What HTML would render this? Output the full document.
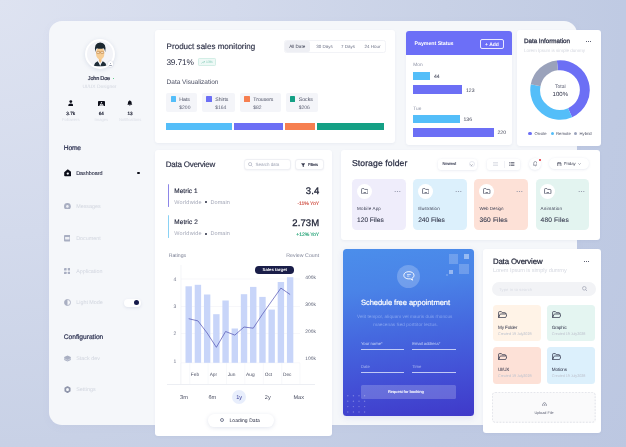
<!DOCTYPE html>
<html><head><meta charset="utf-8"><title>Dashboard</title>
<style>
html,body{margin:0;padding:0;}
body{width:626px;height:447px;overflow:hidden;position:relative;font-family:"Liberation Sans",sans-serif;
background:radial-gradient(circle 780px at 0 0,#dee3f1 0%,#d3daec 30%,#c8d1e6 57%,#bfcae3 80%,#bcc7e1 100%);}
body div,body svg,body span{position:absolute;box-sizing:border-box;}
.t{line-height:1;white-space:nowrap;}
.card{background:#fff;border-radius:3px;box-shadow:0 1px 2.5px rgba(100,115,160,.08);}
#L{left:0;top:0;width:626px;height:447px;will-change:transform;text-rendering:geometricPrecision;}
</style></head><body><div id="L">
<div style="left:49px;top:21px;width:528.1px;height:404.4px;background:#f5f7fa;border-radius:13px;box-shadow:0 2px 8px rgba(110,125,170,.05);"></div>
<div class="card" style="left:154.5px;top:30px;width:240px;height:112.5px"></div>
<div class="card" style="left:405.5px;top:30.5px;width:106.5px;height:114.2px;overflow:hidden"><div style="left:0;top:0;width:100%;height:24.5px;background:#6c6ff7"></div></div>
<div class="card" style="left:517px;top:30px;width:83.6px;height:115.7px"></div>
<div class="card" style="left:154.5px;top:150.3px;width:177.5px;height:285.6px"></div>
<div class="card" style="left:341px;top:150.1px;width:259.4px;height:89.8px"></div>
<div style="left:343px;top:249px;width:131px;height:167px;border-radius:3.5px;background:linear-gradient(172deg,#4b8eeb 0%,#4a83e7 24%,#4568df 50%,#4350d6 75%,#3f39c9 100%);box-shadow:0 2px 6px rgba(70,80,200,.12)"></div>
<div class="card" style="left:482.5px;top:249px;width:118.5px;height:183.5px"></div>
<div style="left:84.6px;top:38.6px;width:30.6px;height:30.6px;border-radius:50%;background:#fff;box-shadow:0 1px 4px rgba(120,135,175,.22)"></div>
<div style="left:86.9px;top:40.9px;width:26px;height:26px;border-radius:50%;background:#f3f4f8;overflow:hidden"><svg style="left:-2.9px;top:-2.9px" width="32" height="32" viewBox="0 0 32 32"><path d="M9.6 28.2 Q10.6 24.4 13.6 23.2 L16.2 27 L18.8 23.2 Q21.8 24.4 22.8 28.2 Z" fill="#1f2d38"/><path d="M14.4 23.3 L16.2 28.2 L18 23.3 L16.2 24.4Z" fill="#eef1f5"/><path d="M14.9 20 H17.5 V22.9 L16.2 24.9 L14.9 22.9Z" fill="#f0bd80"/><ellipse cx="16.2" cy="15.4" rx="4.2" ry="6.2" fill="#f6cd95"/><path d="M11.2 14.2 Q9.6 4.6 16.2 4.5 Q22.9 4.6 21.2 14.2 Q20.8 11 19.6 10.2 Q16.2 11.2 12.8 10.2 Q11.6 11 11.2 14.2Z" fill="#1b2730"/><rect x="12.7" y="13.4" width="3" height="2.1" rx=".6" fill="#f3dcc0" stroke="#b5793a" stroke-width=".5"/><rect x="16.7" y="13.4" width="3" height="2.1" rx=".6" fill="#f3dcc0" stroke="#b5793a" stroke-width=".5"/><path d="M15.7 14.2 H16.7" stroke="#b5793a" stroke-width=".45"/></svg></div>
<div style="left:107.6px;top:61.2px;width:5.6px;height:5.6px;border-radius:50%;background:#fff;box-shadow:0 0 1.5px rgba(100,110,150,.4)"></div>
<div style="left:109.8px;top:62.7px;width:1.2px;height:1.8px;background:#9aa0b0;border-radius:.6px .6px 0 0"></div>
<div style="left:109.2px;top:64.7px;width:2.4px;height:.9px;background:#9aa0b0;border-radius:.4px"></div>
<span class="t" style="top:77px;font-size:5.6px;color:#2d3148;letter-spacing:-0.234px;left:98.88px;transform:translateX(-50%);-webkit-text-stroke:.2px currentColor;">John Doe</span>
<div style="left:112.7px;top:77.7px;width:1.6px;height:1.6px;border-radius:50%;background:#35c46a"></div>
<span class="t" style="top:86px;font-size:4.9px;color:#d3d7e0;left:99.50px;transform:translateX(-50%);">UI/UX Designer</span>
<svg style="left:67.9px;top:100.4px;" width="5.6" height="6.1" viewBox="0 0 7 7.6"><circle cx="3.5" cy="1.9" r="1.75" fill="#0d0f1a"/><path d="M0.3 7.4 Q0.3 4.3 3.5 4.3 Q6.7 4.3 6.7 7.4Z" fill="#0d0f1a"/></svg>
<svg style="left:97.8px;top:100.5px;" width="7" height="5.95" viewBox="0 0 8 6.8"><rect x="0" y="0" width="8" height="6.8" rx=".9" fill="#0d0f1a"/><path d="M1.3 5.5 L3.2 3 L4.3 4.3 L5.3 3.3 L6.8 5.5Z" fill="#f5f7fa"/><circle cx="4" cy="2" r=".75" fill="#f5f7fa"/></svg>
<svg style="left:127.2px;top:100.2px;" width="5.6" height="6.25" viewBox="0 0 7 7.8"><path d="M3.5 0.3 Q4.1 0.3 4.1 1 Q5.9 1.5 5.9 3.6 L5.9 5 L6.7 6 L0.3 6 L1.1 5 L1.1 3.6 Q1.1 1.5 2.9 1 Q2.9 0.3 3.5 0.3Z" fill="#0d0f1a"/><path d="M2.6 6.5 Q3.5 7.8 4.4 6.5Z" fill="#0d0f1a"/></svg>
<span class="t" style="top:112px;font-size:4.6px;color:#1d2033;left:70.70px;transform:translateX(-50%);-webkit-text-stroke:.2px currentColor;">3.7k</span>
<span class="t" style="top:112px;font-size:4.6px;color:#1d2033;left:101.30px;transform:translateX(-50%);-webkit-text-stroke:.2px currentColor;">64</span>
<span class="t" style="top:112px;font-size:4.6px;color:#1d2033;left:130.10px;transform:translateX(-50%);-webkit-text-stroke:.2px currentColor;">13</span>
<span class="t" style="top:118px;font-size:4.1px;color:#dde0e8;left:70.70px;transform:translateX(-50%);">Followers</span>
<span class="t" style="top:118px;font-size:4.1px;color:#dde0e8;left:101.30px;transform:translateX(-50%);">Images</span>
<span class="t" style="top:118px;font-size:4.1px;color:#dde0e8;left:130.10px;transform:translateX(-50%);">Notifications</span>
<span class="t" style="top:146px;font-size:6.7px;color:#2b3050;letter-spacing:-0.184px;left:63.8px;-webkit-text-stroke:.2px currentColor;">Home</span>
<svg style="left:63.8px;top:169.3px;" width="7.6" height="7.4" viewBox="0 0 7.6 7.4"><path d="M3.8 0.2 L7.4 3.2 L7.4 6.4 Q7.4 7.2 6.6 7.2 L1 7.2 Q0.2 7.2 0.2 6.4 L0.2 3.2Z" fill="#0b0d18"/><circle cx="3.8" cy="4.6" r="1.15" fill="#f5f7fa"/></svg>
<span class="t" style="top:172px;font-size:5.4px;color:#2d3148;letter-spacing:-0.009px;left:76.2px;-webkit-text-stroke:.1px currentColor;">Dashboard</span>
<div style="left:137.3px;top:171.8px;width:2.6px;height:2.6px;border-radius:50%;background:#0d0f1a"></div>
<svg style="left:63.8px;top:202.6px;" width="6.8" height="6.8" viewBox="0 0 6.8 6.8"><circle cx="3.4" cy="3.4" r="3.4" fill="#a9afc2"/><circle cx="3.4" cy="3.4" r="1.3" fill="#eef0f5"/></svg>
<span class="t" style="top:205px;font-size:5.4px;color:#d2d6df;left:76.2px;">Messages</span>
<svg style="left:63.9px;top:235.2px;" width="6.6" height="6.4" viewBox="0 0 6.6 6.4"><rect x="0" y="0" width="6.6" height="6.4" rx=".9" fill="#a9afc2"/><rect x="1.1" y="1.9" width="4.4" height="2.5" rx=".3" fill="#eef0f5"/></svg>
<span class="t" style="top:237px;font-size:5.4px;color:#d2d6df;left:76.2px;">Document</span>
<svg style="left:63.9px;top:267.8px;" width="6.4" height="6.4" viewBox="0 0 6.4 6.4"><rect x="0" y="0" width="2.6" height="2.6" rx=".5" fill="#a9afc2"/><rect x="3.8" y="0" width="2.6" height="2.6" rx=".5" fill="#a9afc2"/><rect x="0" y="3.8" width="2.6" height="2.6" rx=".5" fill="#a9afc2"/><rect x="3.8" y="3.8" width="2.6" height="2.6" rx=".5" fill="#a9afc2"/></svg>
<span class="t" style="top:270px;font-size:5.4px;color:#d2d6df;left:76.2px;">Application</span>
<svg style="left:63.8px;top:299.2px;" width="7" height="7" viewBox="0 0 7 7"><circle cx="3.5" cy="3.5" r="3" fill="none" stroke="#a9afc2" stroke-width=".9"/><path d="M3.5 0.5 A3 3 0 0 0 3.5 6.5Z" fill="#a9afc2"/></svg>
<span class="t" style="top:301px;font-size:5.4px;color:#d2d6df;left:76.2px;">Light Mode</span>
<div style="left:124px;top:298.6px;width:16.5px;height:8px;border-radius:4px;background:#fff;box-shadow:0 1px 3px rgba(120,135,175,.18)"></div>
<div style="left:134px;top:299.9px;width:5.4px;height:5.4px;border-radius:50%;background:#151a4a"></div>
<span class="t" style="top:335px;font-size:6.7px;color:#2b3050;letter-spacing:-0.022px;left:63.8px;-webkit-text-stroke:.2px currentColor;">Configuration</span>
<svg style="left:63.8px;top:354.6px;" width="7" height="7" viewBox="0 0 7 7"><path d="M3.5 .5 L6.8 2 L6.8 4.9 L3.5 6.5 L.2 4.9 L.2 2Z" fill="#a9afc2"/><path d="M.2 3.6 L3.5 5.2 L6.8 3.6" fill="none" stroke="#e4e7ee" stroke-width=".55"/></svg>
<span class="t" style="top:357px;font-size:5.4px;color:#d2d6df;left:76.2px;">Stack dev</span>
<svg style="left:63.9px;top:385.5px;" width="7" height="7.2" viewBox="0 0 7 7.2"><path d="M3.5 1 L5.7 2.3 L5.7 4.9 L3.5 6.2 L1.3 4.9 L1.3 2.3Z" fill="none" stroke="#8f95aa" stroke-width="1.7" stroke-linejoin="round"/></svg>
<span class="t" style="top:388px;font-size:5.4px;color:#d2d6df;left:76.2px;">Settings</span>
<span class="t" style="top:43px;font-size:8px;color:#2b2f45;letter-spacing:0.028px;left:166.6px;-webkit-text-stroke:.16px currentColor;">Product sales monitoring</span>
<span class="t" style="top:58px;font-size:8.3px;color:#2b2f45;letter-spacing:-0.135px;left:166.4px;">39.71%</span>
<div style="left:198.4px;top:58.1px;width:17.4px;height:7.8px;border-radius:1.2px;background:#eef9f6;border:.5px solid #d3eee6"></div>
<svg style="left:201.2px;top:60.6px;" width="4" height="3" viewBox="0 0 4 3"><path d="M0.3 2.6 L1.5 1.3 L2.2 1.9 L3.6 0.5 M2.5 0.4 L3.7 0.4 L3.7 1.6" fill="none" stroke="#6fc3ad" stroke-width=".45"/></svg>
<span class="t" style="top:61px;font-size:3.4px;color:#7fc9b5;left:206px;">13%</span>
<span class="t" style="top:80px;font-size:6.5px;color:#4b4f63;letter-spacing:-0.007px;left:166.6px;">Data Visualization</span>
<div style="left:166.4px;top:93.2px;width:30.299999999999997px;height:18.8px;background:#f4f5f9;border-radius:2px;"></div>
<div style="left:170.5px;top:96.3px;width:5.3px;height:5.3px;background:#54bef9;border-radius:0.6px;"></div>
<span class="t" style="top:98px;font-size:5.2px;color:#4b4f63;left:179.3px;">Hats</span>
<span class="t" style="top:106px;font-size:5px;color:#5a5e72;left:179.3px;">$200</span>
<div style="left:202.3px;top:93.2px;width:32.4px;height:18.8px;background:#f4f5f9;border-radius:2px;"></div>
<div style="left:206.4px;top:96.3px;width:5.3px;height:5.3px;background:#6c6ff5;border-radius:0.6px;"></div>
<span class="t" style="top:98px;font-size:5.2px;color:#4b4f63;left:215.20000000000002px;">Shirts</span>
<span class="t" style="top:106px;font-size:5px;color:#5a5e72;left:215.20000000000002px;">$164</span>
<div style="left:240.3px;top:93.2px;width:40.3px;height:18.8px;background:#f4f5f9;border-radius:2px;"></div>
<div style="left:244.4px;top:96.3px;width:5.3px;height:5.3px;background:#f67f50;border-radius:0.6px;"></div>
<span class="t" style="top:98px;font-size:5.2px;color:#4b4f63;left:253.20000000000002px;">Trousers</span>
<span class="t" style="top:106px;font-size:5px;color:#5a5e72;left:253.20000000000002px;">$82</span>
<div style="left:285.8px;top:93.2px;width:32.699999999999996px;height:18.8px;background:#f4f5f9;border-radius:2px;"></div>
<div style="left:289.90000000000003px;top:96.3px;width:5.3px;height:5.3px;background:#14a085;border-radius:0.6px;"></div>
<span class="t" style="top:98px;font-size:5.2px;color:#4b4f63;left:298.7px;">Socks</span>
<span class="t" style="top:106px;font-size:5px;color:#5a5e72;left:298.7px;">$206</span>
<div style="left:166.4px;top:122.6px;width:65.8px;height:7.2px;background:#54bef9;border-radius:0px;"></div>
<div style="left:233.8px;top:122.6px;width:49.7px;height:7.2px;background:#6c6ff5;border-radius:0px;"></div>
<div style="left:285.2px;top:122.6px;width:29.9px;height:7.2px;background:#f67f50;border-radius:0px;"></div>
<div style="left:316.8px;top:122.6px;width:66.8px;height:7.2px;background:#14a085;border-radius:0px;"></div>
<div style="left:283.8px;top:40px;width:102.6px;height:12.7px;border-radius:2.5px;border:.5px solid #f2f3f7;background:#fff"></div>
<div style="left:284.6px;top:40.9px;width:25.4px;height:10.9px;border-radius:2px;background:#eeeff4"></div>
<span class="t" style="top:45px;font-size:4.6px;color:#3a3e52;left:297.20px;transform:translateX(-50%);">All Date</span>
<span class="t" style="top:45px;font-size:4.5px;color:#6b7085;left:324.50px;transform:translateX(-50%);">30 Days</span>
<span class="t" style="top:45px;font-size:4.5px;color:#6b7085;left:348.00px;transform:translateX(-50%);">7 Days</span>
<span class="t" style="top:45px;font-size:4.5px;color:#6b7085;left:372.40px;transform:translateX(-50%);">24 Hour</span>
<span class="t" style="top:42px;font-size:5.3px;color:#fff;font-weight:700;letter-spacing:-0.063px;left:414.6px;">Payment Status</span>
<div style="left:480.3px;top:38.6px;width:23.4px;height:10.8px;border-radius:2px;border:.6px solid rgba(255,255,255,.85)"></div>
<span class="t" style="top:43px;font-size:5px;color:#fff;font-weight:700;left:492.00px;transform:translateX(-50%);">+ Add</span>
<span class="t" style="top:64px;font-size:4.8px;color:#8b90a3;left:413.3px;">Mon</span>
<div style="left:413px;top:71.8px;width:17px;height:8.2px;background:#54bef9;border-radius:0px;"></div>
<span class="t" style="top:75px;font-size:5.1px;color:#3a3e52;left:434px;">44</span>
<div style="left:413px;top:85.3px;width:49.3px;height:8.4px;background:#6c6ff5;border-radius:0px;"></div>
<span class="t" style="top:89px;font-size:5.1px;color:#3a3e52;left:466px;">123</span>
<span class="t" style="top:108px;font-size:4.8px;color:#8b90a3;left:413.3px;">Tue</span>
<div style="left:413px;top:115px;width:46.7px;height:8.4px;background:#54bef9;border-radius:0px;"></div>
<span class="t" style="top:118px;font-size:5.1px;color:#3a3e52;left:463.5px;">136</span>
<div style="left:413px;top:128.2px;width:80.8px;height:8.6px;background:#6c6ff5;border-radius:0px;"></div>
<span class="t" style="top:131px;font-size:5.1px;color:#3a3e52;left:497.5px;">220</span>
<span class="t" style="top:39px;font-size:6.3px;color:#2b2f45;letter-spacing:-0.036px;left:524px;-webkit-text-stroke:.25px currentColor;">Data Information</span>
<div style="left:586.0px;top:40.9px;width:1.3px;height:1.3px;border-radius:50%;background:#2b2f45"></div>
<div style="left:588.1px;top:40.9px;width:1.3px;height:1.3px;border-radius:50%;background:#2b2f45"></div>
<div style="left:590.2px;top:40.9px;width:1.3px;height:1.3px;border-radius:50%;background:#2b2f45"></div>
<span class="t" style="top:49px;font-size:4.6px;color:#d5d8e0;letter-spacing:-0.049px;left:524px;">Lorem Ipsum is simple dummy</span>
<svg style="left:530.2px;top:60.3px;" width="60" height="60" viewBox="0 0 60 60"><path d="M27.41 5.34 A24.8 24.8 0 0 1 40.09 52.66" fill="none" stroke="#6c6ff5" stroke-width="9.9"/><path d="M40.09 52.66 A24.8 24.8 0 0 1 5.66 25.27" fill="none" stroke="#54bef9" stroke-width="9.9"/><path d="M5.66 25.27 A24.8 24.8 0 0 1 27.41 5.34" fill="none" stroke="#9aa2bb" stroke-width="9.9"/></svg>
<span class="t" style="top:85px;font-size:5px;color:#5a5e72;left:560.30px;transform:translateX(-50%);">Total</span>
<span class="t" style="top:92px;font-size:6px;color:#2b2f45;left:560.30px;transform:translateX(-50%);">100%</span>
<div style="left:528.4px;top:131.8px;width:3.3px;height:3.3px;border-radius:50%;background:#6c6ff5"></div>
<span class="t" style="top:132px;font-size:4.2px;color:#4b4f63;left:534.6px;">Onsite</span>
<div style="left:551px;top:131.8px;width:3.3px;height:3.3px;border-radius:50%;background:#54bef9"></div>
<span class="t" style="top:132px;font-size:4.2px;color:#4b4f63;left:556.1px;">Remote</span>
<div style="left:574.2px;top:131.8px;width:3.3px;height:3.3px;border-radius:50%;background:#9aa2bb"></div>
<span class="t" style="top:132px;font-size:4.2px;color:#4b4f63;left:579.6px;">Hybrid</span>
<span class="t" style="top:161px;font-size:8px;color:#2b2f45;letter-spacing:-0.246px;left:165.8px;-webkit-text-stroke:.16px currentColor;">Data Overview</span>
<div style="left:243.7px;top:159.2px;width:47.6px;height:11px;border-radius:3px;border:.5px solid #eff0f4;background:#fff;box-shadow:0 .5px 1.5px rgba(120,135,175,.12)"></div>
<svg style="left:247.6px;top:162.4px;" width="5" height="5" viewBox="0 0 5 5"><circle cx="2.1" cy="2.1" r="1.6" fill="none" stroke="#9297aa" stroke-width=".5"/><path d="M3.3 3.3 L4.5 4.5" stroke="#9297aa" stroke-width=".5"/></svg>
<span class="t" style="top:163px;font-size:4.5px;color:#9da2b3;letter-spacing:-0.065px;left:255.6px;">Search data</span>
<div style="left:295.2px;top:159.2px;width:29px;height:11px;border-radius:3px;border:.5px solid #eff0f4;background:#fff;box-shadow:0 .5px 1.5px rgba(120,135,175,.12)"></div>
<svg style="left:300.8px;top:162.8px;" width="4.4" height="4.4" viewBox="0 0 4.4 4.4"><path d="M0.4 0.5 L4 0.5 L2.6 2.2 L2.6 3.9 L1.8 3.4 L1.8 2.2Z" fill="#2b2f45" stroke="#2b2f45" stroke-width=".3" stroke-linejoin="round"/></svg>
<span class="t" style="top:163px;font-size:4.2px;color:#3a3e52;letter-spacing:-0.247px;left:308.1px;-webkit-text-stroke:.15px currentColor;">Filters</span>
<div style="left:168.1px;top:183.8px;width:1px;height:23.4px;background:#8d86e8;border-radius:0.5px;"></div>
<span class="t" style="top:189px;font-size:6.4px;color:#2b2f45;letter-spacing:0.075px;left:174.3px;-webkit-text-stroke:.16px currentColor;">Metric 1</span>
<span class="t" style="top:201px;font-size:5.5px;color:#a4a8b8;letter-spacing:0.214px;left:174.3px;">Worldwide</span>
<span class="t" style="top:201px;font-size:5.5px;color:#a4a8b8;letter-spacing:0.045px;left:210.6px;">Domain</span>
<div style="left:205.4px;top:201.3px;width:1.8px;height:1.8px;border-radius:50%;background:#2b2f45"></div>
<span class="t" style="top:187px;font-size:9.5px;color:#1f2336;letter-spacing:0.073px;right:306.73px;-webkit-text-stroke:.3px currentColor;">3.4</span>
<span class="t" style="top:202px;font-size:5.1px;color:#cf4d41;letter-spacing:-0.027px;right:306.83px;-webkit-text-stroke:.15px currentColor;">-11% YoY</span>
<div style="left:168.1px;top:215.4px;width:1px;height:23.1px;background:#8ad2f5;border-radius:0.5px;"></div>
<span class="t" style="top:220px;font-size:6.4px;color:#2b2f45;letter-spacing:0.115px;left:174.3px;-webkit-text-stroke:.16px currentColor;">Metric 2</span>
<span class="t" style="top:232px;font-size:5.5px;color:#a4a8b8;letter-spacing:0.214px;left:174.3px;">Worldwide</span>
<span class="t" style="top:232px;font-size:5.5px;color:#a4a8b8;letter-spacing:0.045px;left:210.6px;">Domain</span>
<div style="left:205.4px;top:232.8px;width:1.8px;height:1.8px;border-radius:50%;background:#2b2f45"></div>
<span class="t" style="top:219px;font-size:9.5px;color:#1f2336;letter-spacing:0.132px;right:306.67px;-webkit-text-stroke:.3px currentColor;">2.73M</span>
<span class="t" style="top:233px;font-size:5.1px;color:#25a377;letter-spacing:-0.114px;right:306.91px;-webkit-text-stroke:.15px currentColor;">+12% YoY</span>
<span class="t" style="top:254px;font-size:5.2px;color:#7d8296;letter-spacing:-0.045px;left:168.8px;">Ratings</span>
<span class="t" style="top:254px;font-size:5.2px;color:#7d8296;letter-spacing:0.061px;right:306.74px;">Review Count</span>
<svg style="left:0;top:260px" width="340" height="125" viewBox="0 0 340 125"><path d="M181 19 L300 19" stroke="#f1f2f6" stroke-width=".6"/><path d="M181 46.5 L300 46.5" stroke="#f1f2f6" stroke-width=".6"/><path d="M181 73.5 L300 73.5" stroke="#f1f2f6" stroke-width=".6"/><path d="M181 102.80000000000001 L300 102.80000000000001" stroke="#f1f2f6" stroke-width=".6"/><path d="M181 5 L181 124" stroke="#eceef3" stroke-width=".6"/><path d="M180.5 103 L180.5 124" stroke="#f4f5f8" stroke-width=".6"/><path d="M189.7 103 L189.7 124" stroke="#f4f5f8" stroke-width=".6"/><path d="M208.1 103 L208.1 124" stroke="#f4f5f8" stroke-width=".6"/><path d="M226.5 103 L226.5 124" stroke="#f4f5f8" stroke-width=".6"/><path d="M244.9 103 L244.9 124" stroke="#f4f5f8" stroke-width=".6"/><path d="M263.3 103 L263.3 124" stroke="#f4f5f8" stroke-width=".6"/><path d="M281.7 103 L281.7 124" stroke="#f4f5f8" stroke-width=".6"/><path d="M300 103 L300 124" stroke="#f4f5f8" stroke-width=".6"/><rect x="185.50" y="26.30" width="6.4" height="76.50" fill="#c8d5f9"/><rect x="194.72" y="24.80" width="6.4" height="78.00" fill="#c8d5f9"/><rect x="203.94" y="34.50" width="6.4" height="68.30" fill="#c8d5f9"/><rect x="213.16" y="54.20" width="6.4" height="48.60" fill="#c8d5f9"/><rect x="222.38" y="40.50" width="6.4" height="62.30" fill="#c8d5f9"/><rect x="231.60" y="68.50" width="6.4" height="34.30" fill="#c8d5f9"/><rect x="240.82" y="34.20" width="6.4" height="68.60" fill="#c8d5f9"/><rect x="250.04" y="26.90" width="6.4" height="75.90" fill="#c8d5f9"/><rect x="259.26" y="36.90" width="6.4" height="65.90" fill="#c8d5f9"/><rect x="268.48" y="49.60" width="6.4" height="53.20" fill="#c8d5f9"/><rect x="277.70" y="22.00" width="6.4" height="80.80" fill="#c8d5f9"/><rect x="286.92" y="17.20" width="6.4" height="85.60" fill="#c8d5f9"/><polyline points="188.70,58.70 197.92,60.90 207.14,73.00 216.36,87.30 225.58,71.50 234.80,75.10 244.02,67.00 253.24,68.20 262.46,54.20 271.68,41.10 280.90,28.10 290.12,34.50" fill="none" stroke="#4d4fb0" stroke-width=".7" stroke-linejoin="round"/></svg>
<span class="t" style="top:278px;font-size:5px;color:#6b7085;left:174.80px;transform:translateX(-50%);">4</span>
<span class="t" style="top:305px;font-size:5px;color:#6b7085;left:174.80px;transform:translateX(-50%);">3</span>
<span class="t" style="top:332px;font-size:5px;color:#6b7085;left:174.80px;transform:translateX(-50%);">2</span>
<span class="t" style="top:360px;font-size:5px;color:#6b7085;left:174.80px;transform:translateX(-50%);">1</span>
<span class="t" style="top:277px;font-size:4.9px;color:#565b70;left:305.3px;">400k</span>
<span class="t" style="top:304px;font-size:4.9px;color:#565b70;left:305.3px;">300k</span>
<span class="t" style="top:331px;font-size:4.9px;color:#565b70;left:305.3px;">200k</span>
<span class="t" style="top:358px;font-size:4.9px;color:#565b70;left:305.3px;">100k</span>
<span class="t" style="top:374px;font-size:4.8px;color:#4b4f63;left:195.00px;transform:translateX(-50%);">Feb</span>
<span class="t" style="top:374px;font-size:4.8px;color:#4b4f63;left:213.40px;transform:translateX(-50%);">Apr</span>
<span class="t" style="top:374px;font-size:4.8px;color:#4b4f63;left:231.50px;transform:translateX(-50%);">Jun</span>
<span class="t" style="top:374px;font-size:4.8px;color:#4b4f63;left:250.30px;transform:translateX(-50%);">Aug</span>
<span class="t" style="top:374px;font-size:4.8px;color:#4b4f63;left:268.40px;transform:translateX(-50%);">Oct</span>
<span class="t" style="top:374px;font-size:4.8px;color:#4b4f63;left:287.20px;transform:translateX(-50%);">Dec</span>
<div style="left:255.3px;top:266.2px;width:38.9px;height:7.6px;border-radius:3.8px;background:#191d48"></div>
<span class="t" style="top:268px;font-size:4.3px;color:#fff;font-weight:700;left:274.80px;transform:translateX(-50%);">Sales target</span>
<div style="left:166.7px;top:383.5px;width:148.7px;height:0.6px;background:#eceef3;border-radius:0px;"></div>
<div style="left:232.2px;top:390px;width:14px;height:14px;border-radius:50%;background:#e8eefc"></div>
<span class="t" style="top:396px;font-size:5.6px;color:#4b4f63;left:184.00px;transform:translateX(-50%);">3m</span>
<span class="t" style="top:396px;font-size:5.6px;color:#4b4f63;left:212.30px;transform:translateX(-50%);">6m</span>
<span class="t" style="top:396px;font-size:5.6px;color:#3a3f9a;left:239.20px;transform:translateX(-50%);">1y</span>
<span class="t" style="top:396px;font-size:5.6px;color:#4b4f63;left:267.80px;transform:translateX(-50%);">2y</span>
<span class="t" style="top:396px;font-size:5.6px;color:#4b4f63;left:298.70px;transform:translateX(-50%);">Max</span>
<div style="left:207.7px;top:414px;width:66.1px;height:12.8px;border-radius:6.4px;background:#fff;box-shadow:0 1px 4px rgba(110,125,170,.2)"></div>
<div style="left:220.1px;top:418.2px;width:4.2px;height:4.2px;border-radius:50%;border:.55px solid #7d8296"></div>
<span class="t" style="top:419px;font-size:5px;color:#2b2f45;letter-spacing:0.057px;left:229.5px;">Loading Data</span>
<span class="t" style="top:159px;font-size:8.6px;color:#2b2f45;letter-spacing:0.112px;left:351.9px;-webkit-text-stroke:.25px currentColor;">Storage folder</span>
<div style="left:438.3px;top:159px;width:39px;height:10.8px;border-radius:3px;background:#fff;box-shadow:0 .5px 2.5px rgba(120,135,175,.2);"></div>
<span class="t" style="top:162px;font-size:4.1px;color:#4b4f63;letter-spacing:-0.010px;left:442.6px;-webkit-text-stroke:.15px currentColor;">Newest</span>
<div style="left:468.7px;top:161.3px;width:6.2px;height:6.2px;border-radius:50%;border:.5px solid #e6e8ef"></div>
<svg style="left:470.3px;top:163.6px;" width="3" height="2" viewBox="0 0 3 2"><path d="M0.5 0.5 L1.5 1.5 L2.5 0.5" fill="none" stroke="#4b4f63" stroke-width=".5"/></svg>
<div style="left:487.3px;top:158.8px;width:33.2px;height:10.8px;border-radius:2.5px;background:#fff;box-shadow:0 .5px 2.5px rgba(120,135,175,.2);"></div>
<div style="left:503.6px;top:160.6px;width:0.5px;height:7.2px;background:#f0f1f5;border-radius:0px;"></div>
<svg style="left:493px;top:162.4px;" width="5" height="4" viewBox="0 0 5 4"><path d="M0 .5H5M0 2H5M0 3.5H5" stroke="#cdd0da" stroke-width=".6"/></svg>
<svg style="left:509.3px;top:162.4px;" width="5.4" height="4" viewBox="0 0 5.4 4"><path d="M0 .5H.8M1.5 .5H5.4M0 2H.8M1.5 2H5.4M0 3.5H.8M1.5 3.5H5.4" stroke="#3a3e52" stroke-width=".65"/></svg>
<div style="left:528.7px;top:157.8px;width:12.4px;height:12.4px;border-radius:50%;background:#fff;box-shadow:0 .5px 2.5px rgba(120,135,175,.2);"></div>
<svg style="left:532.6px;top:161.3px;" width="4.6" height="5.4" viewBox="0 0 4.6 5.4"><path d="M2.3 .4 Q3.9 .6 3.9 2.4 L3.9 3.5 L4.4 4.2 L.2 4.2 L.7 3.5 L.7 2.4 Q.7 .6 2.3 .4Z" fill="none" stroke="#4b4f63" stroke-width=".5"/><path d="M1.8 4.7 Q2.3 5.3 2.8 4.7" fill="none" stroke="#4b4f63" stroke-width=".5"/></svg>
<div style="left:538.8px;top:158.8px;width:2.5px;height:2.5px;border-radius:50%;background:#e5252f"></div>
<div style="left:549.4px;top:158.3px;width:39.2px;height:11.2px;border-radius:5.6px;background:#fff;box-shadow:0 .5px 2.5px rgba(120,135,175,.2);"></div>
<svg style="left:557.3px;top:161.6px;" width="4.4" height="4.6" viewBox="0 0 4.4 4.6"><rect x=".4" y=".8" width="3.6" height="3.4" rx=".4" fill="none" stroke="#3a3e52" stroke-width=".55"/><path d="M.4 1.8H4M1.3 .2V1.1M3.1 .2V1.1" stroke="#3a3e52" stroke-width=".55"/></svg>
<span class="t" style="top:162px;font-size:4.3px;color:#3a3e52;letter-spacing:-0.064px;left:564px;">Friday</span>
<svg style="left:577.7px;top:163.2px;" width="3" height="2" viewBox="0 0 3 2"><path d="M0.4 0.4 L1.5 1.5 L2.6 0.4" fill="none" stroke="#4b4f63" stroke-width=".5"/></svg>
<div style="left:352px;top:178.8px;width:53.5px;height:51px;background:#efedfb;border-radius:4.5px;"></div>
<div style="left:356.8px;top:183.5px;width:15.2px;height:15.2px;border-radius:50%;background:#fff"></div>
<svg style="left:360.7px;top:187.9px;" width="7.5" height="6.4" viewBox="0 0 6.8 5.8"><path d="M.5 1.2 Q.5 .5 1.2 .5 L2.6 .5 L3.3 1.3 L5.6 1.3 Q6.3 1.3 6.3 2 L6.3 4.6 Q6.3 5.3 5.6 5.3 L1.2 5.3 Q.5 5.3 .5 4.6Z M2.3 4.1 H4.5" fill="none" stroke="#4b4f63" stroke-width=".68" stroke-linejoin="round"/></svg>
<svg style="left:394px;top:189.5px;" width="7" height="3" viewBox="0 0 7 3"><circle cx="1.2" cy="1.5" r=".62" fill="#8d92a5"/><circle cx="3.5" cy="1.5" r=".62" fill="#8d92a5"/><circle cx="5.8" cy="1.5" r=".62" fill="#8d92a5"/></svg>
<span class="t" style="top:207px;font-size:4.5px;color:#3a3e52;letter-spacing:0.162px;left:357.1px;">Mobile App</span>
<span class="t" style="top:218px;font-size:6.6px;color:#33374b;letter-spacing:-0.019px;left:357.1px;-webkit-text-stroke:.1px currentColor;">120 Files</span>
<div style="left:413.1px;top:178.8px;width:53.5px;height:51px;background:#dcf0fc;border-radius:4.5px;"></div>
<div style="left:417.90000000000003px;top:183.5px;width:15.2px;height:15.2px;border-radius:50%;background:#fff"></div>
<svg style="left:421.8px;top:187.9px;" width="7.5" height="6.4" viewBox="0 0 6.8 5.8"><path d="M.5 1.2 Q.5 .5 1.2 .5 L2.6 .5 L3.3 1.3 L5.6 1.3 Q6.3 1.3 6.3 2 L6.3 4.6 Q6.3 5.3 5.6 5.3 L1.2 5.3 Q.5 5.3 .5 4.6Z M2.3 4.1 H4.5" fill="none" stroke="#4b4f63" stroke-width=".68" stroke-linejoin="round"/></svg>
<svg style="left:455.1px;top:189.5px;" width="7" height="3" viewBox="0 0 7 3"><circle cx="1.2" cy="1.5" r=".62" fill="#8d92a5"/><circle cx="3.5" cy="1.5" r=".62" fill="#8d92a5"/><circle cx="5.8" cy="1.5" r=".62" fill="#8d92a5"/></svg>
<span class="t" style="top:207px;font-size:4.5px;color:#3a3e52;letter-spacing:0.086px;left:418.20000000000005px;">Illustration</span>
<span class="t" style="top:218px;font-size:6.6px;color:#33374b;letter-spacing:-0.019px;left:418.20000000000005px;-webkit-text-stroke:.1px currentColor;">240 Files</span>
<div style="left:474.3px;top:178.8px;width:53.5px;height:51px;background:#fde1d7;border-radius:4.5px;"></div>
<div style="left:479.1px;top:183.5px;width:15.2px;height:15.2px;border-radius:50%;background:#fff"></div>
<svg style="left:483.0px;top:187.9px;" width="7.5" height="6.4" viewBox="0 0 6.8 5.8"><path d="M.5 1.2 Q.5 .5 1.2 .5 L2.6 .5 L3.3 1.3 L5.6 1.3 Q6.3 1.3 6.3 2 L6.3 4.6 Q6.3 5.3 5.6 5.3 L1.2 5.3 Q.5 5.3 .5 4.6Z M2.3 4.1 H4.5" fill="none" stroke="#4b4f63" stroke-width=".68" stroke-linejoin="round"/></svg>
<svg style="left:516.3px;top:189.5px;" width="7" height="3" viewBox="0 0 7 3"><circle cx="1.2" cy="1.5" r=".62" fill="#8d92a5"/><circle cx="3.5" cy="1.5" r=".62" fill="#8d92a5"/><circle cx="5.8" cy="1.5" r=".62" fill="#8d92a5"/></svg>
<span class="t" style="top:207px;font-size:4.5px;color:#3a3e52;letter-spacing:-0.025px;left:479.40000000000003px;">Web Design</span>
<span class="t" style="top:218px;font-size:6.6px;color:#33374b;letter-spacing:0.169px;left:479.40000000000003px;-webkit-text-stroke:.1px currentColor;">360 Files</span>
<div style="left:535.5px;top:178.8px;width:53.5px;height:51px;background:#e3f4f0;border-radius:4.5px;"></div>
<div style="left:540.3px;top:183.5px;width:15.2px;height:15.2px;border-radius:50%;background:#fff"></div>
<svg style="left:544.2px;top:187.9px;" width="7.5" height="6.4" viewBox="0 0 6.8 5.8"><path d="M.5 1.2 Q.5 .5 1.2 .5 L2.6 .5 L3.3 1.3 L5.6 1.3 Q6.3 1.3 6.3 2 L6.3 4.6 Q6.3 5.3 5.6 5.3 L1.2 5.3 Q.5 5.3 .5 4.6Z M2.3 4.1 H4.5" fill="none" stroke="#4b4f63" stroke-width=".68" stroke-linejoin="round"/></svg>
<svg style="left:577.5px;top:189.5px;" width="7" height="3" viewBox="0 0 7 3"><circle cx="1.2" cy="1.5" r=".62" fill="#8d92a5"/><circle cx="3.5" cy="1.5" r=".62" fill="#8d92a5"/><circle cx="5.8" cy="1.5" r=".62" fill="#8d92a5"/></svg>
<span class="t" style="top:207px;font-size:4.5px;color:#3a3e52;letter-spacing:0.175px;left:540.6px;">Animation</span>
<span class="t" style="top:218px;font-size:6.6px;color:#33374b;letter-spacing:0.169px;left:540.6px;-webkit-text-stroke:.1px currentColor;">480 Files</span>
<div style="left:448.5px;top:254.3px;width:9.6px;height:9.6px;background:rgba(255,255,255,0.2)"></div>
<div style="left:464.1px;top:254.1px;width:4.6px;height:4.6px;background:rgba(255,255,255,0.42)"></div>
<div style="left:458.6px;top:264px;width:10px;height:10px;background:rgba(255,255,255,0.2)"></div>
<div style="left:448.8px;top:270px;width:4.3px;height:4.3px;background:rgba(255,255,255,0.42)"></div>
<div style="left:446.2px;top:274.4px;width:2.1px;height:2.1px;background:rgba(255,255,255,0.18)"></div>
<div style="left:396.6px;top:264.8px;width:23.6px;height:23.6px;border-radius:50%;background:rgba(255,255,255,.22)"></div>
<svg style="left:402.6px;top:271.4px;" width="12" height="10" viewBox="0 0 12 10"><path d="M5.9 .7 C9 .7 11 2.2 11 4.3 C11 5.6 10.2 6.7 8.9 7.3 L9.6 9.2 L7.3 7.8 C6.9 7.9 6.4 7.9 5.9 7.9 C2.8 7.9 .8 6.4 .8 4.3 C.8 2.2 2.8 .7 5.9 .7Z" fill="none" stroke="rgba(255,255,255,.95)" stroke-width=".95" stroke-linejoin="round"/><path d="M4 3.5H7.9M4 5.1H6.4" stroke="rgba(255,255,255,.9)" stroke-width=".7"/></svg>
<span class="t" style="top:299px;font-size:7.6px;color:#fff;letter-spacing:-0.068px;left:405.47px;transform:translateX(-50%);-webkit-text-stroke:.2px #fff;">Schedule free appointment</span>
<span class="t" style="top:315px;font-size:4.6px;color:rgba(195,218,255,.5);letter-spacing:0.072px;left:404.74px;transform:translateX(-50%);">Velit tempor, aliquam vel mauris duis rhoncus</span>
<span class="t" style="top:323px;font-size:4.6px;color:rgba(195,218,255,.5);letter-spacing:0.089px;left:405.64px;transform:translateX(-50%);">maecenas Sed porttitor lectus.</span>
<span class="t" style="top:342px;font-size:4.2px;color:rgba(225,235,255,.8);left:360.9px;">Your name*</span>
<span class="t" style="top:342px;font-size:4.2px;color:rgba(225,235,255,.8);left:412.2px;">Email address*</span>
<div style="left:360.9px;top:349.1px;width:43.6px;height:1.2px;background:rgba(235,240,255,.75);border-radius:0px;"></div>
<div style="left:412.2px;top:349.1px;width:43.8px;height:1.2px;background:rgba(235,240,255,.75);border-radius:0px;"></div>
<span class="t" style="top:365px;font-size:4.2px;color:rgba(225,235,255,.6);left:360.9px;">Date</span>
<span class="t" style="top:365px;font-size:4.2px;color:rgba(225,235,255,.6);left:412.2px;">Time</span>
<div style="left:360.9px;top:371.8px;width:43.6px;height:1.2px;background:rgba(235,240,255,.75);border-radius:0px;"></div>
<div style="left:412.2px;top:371.8px;width:43.8px;height:1.2px;background:rgba(235,240,255,.75);border-radius:0px;"></div>
<div style="left:360.9px;top:385.1px;width:95.1px;height:13.9px;background:rgba(255,255,255,.2);border-radius:1.5px;"></div>
<span class="t" style="top:390px;font-size:4px;color:#fff;font-weight:700;letter-spacing:-0.167px;left:405.92px;transform:translateX(-50%);">Request for booking</span>
<svg style="left:347px;top:394.6px;" width="19" height="18.5" viewBox="0 0 19 18.5"><circle cx="0.8" cy="0.8" r=".7" fill="rgba(255,255,255,.3)"/><circle cx="0.8" cy="6.2" r=".7" fill="rgba(255,255,255,.3)"/><circle cx="0.8" cy="11.6" r=".7" fill="rgba(255,255,255,.3)"/><circle cx="0.8" cy="17.0" r=".7" fill="rgba(255,255,255,.3)"/><circle cx="6.4" cy="0.8" r=".7" fill="rgba(255,255,255,.3)"/><circle cx="6.4" cy="6.2" r=".7" fill="rgba(255,255,255,.3)"/><circle cx="6.4" cy="11.6" r=".7" fill="rgba(255,255,255,.3)"/><circle cx="6.4" cy="17.0" r=".7" fill="rgba(255,255,255,.3)"/><circle cx="12.0" cy="0.8" r=".7" fill="rgba(255,255,255,.3)"/><circle cx="12.0" cy="6.2" r=".7" fill="rgba(255,255,255,.3)"/><circle cx="12.0" cy="11.6" r=".7" fill="rgba(255,255,255,.3)"/><circle cx="12.0" cy="17.0" r=".7" fill="rgba(255,255,255,.3)"/><circle cx="17.6" cy="0.8" r=".7" fill="rgba(255,255,255,.3)"/><circle cx="17.6" cy="6.2" r=".7" fill="rgba(255,255,255,.3)"/><circle cx="17.6" cy="11.6" r=".7" fill="rgba(255,255,255,.3)"/><circle cx="17.6" cy="17.0" r=".7" fill="rgba(255,255,255,.3)"/></svg>
<span class="t" style="top:258px;font-size:7.8px;color:#1f2336;letter-spacing:-0.123px;left:492.9px;-webkit-text-stroke:.22px currentColor;">Data Overview</span>
<div style="left:583.6px;top:261px;width:1.3px;height:1.3px;border-radius:50%;background:#2b2f45"></div>
<div style="left:585.8000000000001px;top:261px;width:1.3px;height:1.3px;border-radius:50%;background:#2b2f45"></div>
<div style="left:588.0px;top:261px;width:1.3px;height:1.3px;border-radius:50%;background:#2b2f45"></div>
<span class="t" style="top:269px;font-size:5.6px;color:#d5d8e0;letter-spacing:-0.066px;left:492.9px;">Lorem Ipsum is simply dummy</span>
<div style="left:492.3px;top:282px;width:103.5px;height:14px;background:#f2f3f6;border-radius:7px;"></div>
<span class="t" style="top:288px;font-size:4px;color:#d9dce4;letter-spacing:0.153px;left:499.2px;">Type in to search</span>
<svg style="left:581.8px;top:286.3px;" width="5.6" height="5.6" viewBox="0 0 5.6 5.6"><circle cx="2.3" cy="2.3" r="1.8" fill="none" stroke="#9297aa" stroke-width=".6"/><path d="M3.6 3.6 L5.2 5.2" stroke="#9297aa" stroke-width=".6"/></svg>
<div style="left:492.8px;top:304.6px;width:48.6px;height:36.9px;background:#fff3e7;border-radius:3.5px;"></div>
<svg style="left:497.90000000000003px;top:311.20000000000005px;" width="9.6" height="7.2" viewBox="0 0 9.6 7.2"><path d="M.6 6.6 L.6 1.4 Q.6 .6 1.4 .6 L3.4 .6 L4.3 1.7 L7 1.7 Q7.7 1.7 7.7 2.4 L7.7 3 M.6 6.6 L1.9 3.6 Q2.1 3 2.8 3 L8.3 3 Q9 3 8.8 3.7 L8 6 Q7.8 6.6 7.1 6.6 Z" fill="none" stroke="#2b2f45" stroke-width=".75" stroke-linejoin="round"/></svg>
<span class="t" style="top:326px;font-size:4.6px;color:#2b2f45;letter-spacing:-0.144px;left:498.0px;">My Folder</span>
<span class="t" style="top:333px;font-size:3.8px;color:#bfc4cf;letter-spacing:-0.084px;left:498.0px;">Created 19 July2028</span>
<div style="left:546.6px;top:304.6px;width:48.6px;height:36.9px;background:#e4f5f1;border-radius:3.5px;"></div>
<svg style="left:551.7px;top:311.20000000000005px;" width="9.6" height="7.2" viewBox="0 0 9.6 7.2"><path d="M.6 6.6 L.6 1.4 Q.6 .6 1.4 .6 L3.4 .6 L4.3 1.7 L7 1.7 Q7.7 1.7 7.7 2.4 L7.7 3 M.6 6.6 L1.9 3.6 Q2.1 3 2.8 3 L8.3 3 Q9 3 8.8 3.7 L8 6 Q7.8 6.6 7.1 6.6 Z" fill="none" stroke="#2b2f45" stroke-width=".75" stroke-linejoin="round"/></svg>
<span class="t" style="top:326px;font-size:4.6px;color:#2b2f45;letter-spacing:-0.199px;left:551.8000000000001px;">Graphic</span>
<span class="t" style="top:333px;font-size:3.8px;color:#bfc4cf;letter-spacing:-0.084px;left:551.8000000000001px;">Created 19 July2028</span>
<div style="left:492.8px;top:346.7px;width:48.6px;height:36.9px;background:#fde1d7;border-radius:3.5px;"></div>
<svg style="left:497.90000000000003px;top:353.3px;" width="9.6" height="7.2" viewBox="0 0 9.6 7.2"><path d="M.6 6.6 L.6 1.4 Q.6 .6 1.4 .6 L3.4 .6 L4.3 1.7 L7 1.7 Q7.7 1.7 7.7 2.4 L7.7 3 M.6 6.6 L1.9 3.6 Q2.1 3 2.8 3 L8.3 3 Q9 3 8.8 3.7 L8 6 Q7.8 6.6 7.1 6.6 Z" fill="none" stroke="#2b2f45" stroke-width=".75" stroke-linejoin="round"/></svg>
<span class="t" style="top:368px;font-size:4.6px;color:#2b2f45;letter-spacing:-0.237px;left:498.0px;">UI/UX</span>
<span class="t" style="top:375px;font-size:3.8px;color:#bfc4cf;letter-spacing:-0.084px;left:498.0px;">Created 19 July2028</span>
<div style="left:546.6px;top:346.7px;width:48.6px;height:36.9px;background:#dcf0fc;border-radius:3.5px;"></div>
<svg style="left:551.7px;top:353.3px;" width="9.6" height="7.2" viewBox="0 0 9.6 7.2"><path d="M.6 6.6 L.6 1.4 Q.6 .6 1.4 .6 L3.4 .6 L4.3 1.7 L7 1.7 Q7.7 1.7 7.7 2.4 L7.7 3 M.6 6.6 L1.9 3.6 Q2.1 3 2.8 3 L8.3 3 Q9 3 8.8 3.7 L8 6 Q7.8 6.6 7.1 6.6 Z" fill="none" stroke="#2b2f45" stroke-width=".75" stroke-linejoin="round"/></svg>
<span class="t" style="top:368px;font-size:4.6px;color:#2b2f45;letter-spacing:-0.138px;left:551.8000000000001px;">Motions</span>
<span class="t" style="top:375px;font-size:3.8px;color:#bfc4cf;letter-spacing:-0.084px;left:551.8000000000001px;">Created 19 July2028</span>
<div style="left:492.3px;top:392.2px;width:103.5px;height:30.6px;background:#fafafb;border-radius:3px;"></div>
<svg style="left:492.3px;top:392.2px;" width="103.5" height="30.6" viewBox="0 0 103.5 30.6"><rect x=".35" y=".35" width="102.8" height="29.9" rx="3" fill="none" stroke="#d6d9e1" stroke-width=".7" stroke-dasharray="1.6 1.6"/></svg>
<svg style="left:541.6px;top:401.9px;" width="5" height="4.6" viewBox="0 0 5 4.6"><path d="M1.2 4.1 Q.3 4.1 .3 3.1 Q.3 2.2 1.2 2.1 Q1.3 .5 2.5 .5 Q3.7 .5 3.8 2.1 Q4.7 2.2 4.7 3.1 Q4.7 4.1 3.8 4.1Z" fill="none" stroke="#5a5e72" stroke-width=".5"/><path d="M2.5 3.6 V2.3 M1.9 2.8 L2.5 2.2 L3.1 2.8" fill="none" stroke="#5a5e72" stroke-width=".45"/></svg>
<span class="t" style="top:412px;font-size:3.8px;color:#5a5e72;left:544.00px;transform:translateX(-50%);">Upload File</span>
</div></body></html>
